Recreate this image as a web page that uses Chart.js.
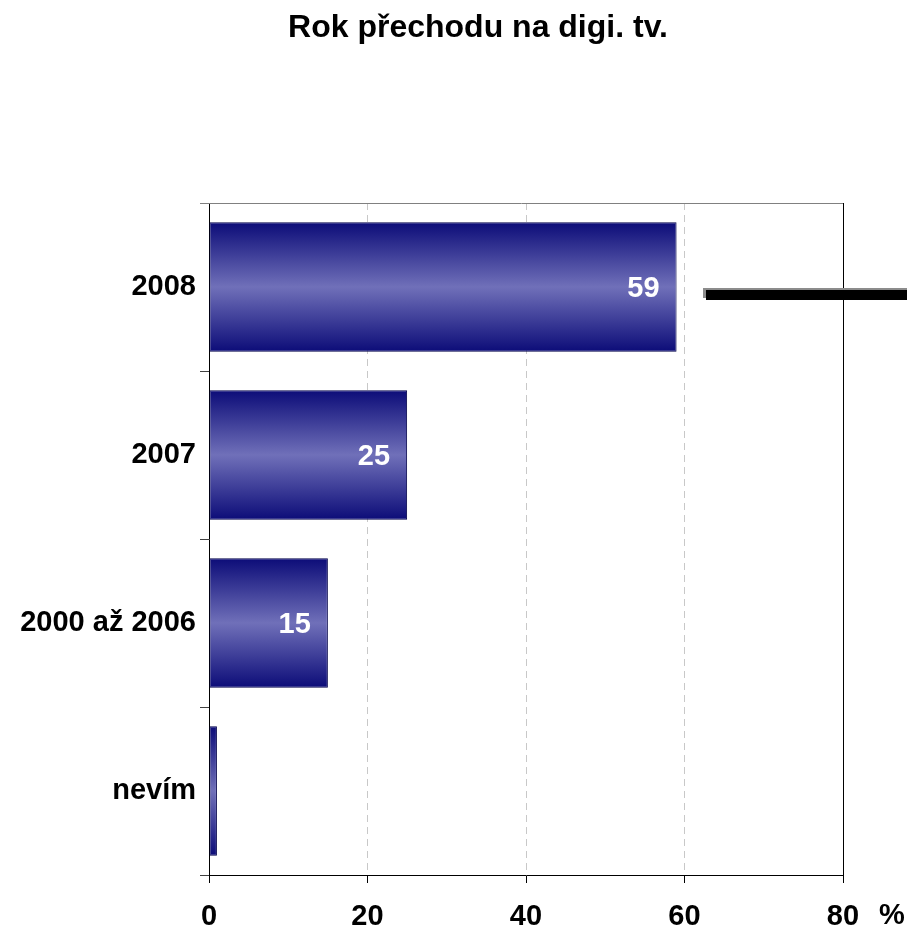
<!DOCTYPE html>
<html>
<head>
<meta charset="utf-8">
<script src="https://cdn.jsdelivr.net/npm/chart.js@4.4.0/dist/chart.umd.min.js"></script>
<style>
  html, body { margin: 0; padding: 0; background: #ffffff; }
  #wrap { width: 907px; height: 932px; }
</style>
</head>
<body>
<div id="wrap"><canvas id="chart" width="907" height="932"></canvas></div>
<script>
// data
const chartTitle = "Rok přechodu na digi. tv.";
const categories = ["2008", "2007", "2000 až 2006", "nevím"];
const shares = [59, 25, 15, 1];
const xTicks = [0, 20, 40, 60, 80];

const darkBlue = "#0c0c78";
const lightBlue = "#7070b9";
const barPct = 0.77;
const font = "'Liberation Sans', Arial, sans-serif";

// vertical gradient for every bar, dark at the edges, light in the middle
function barGradient(ctx) {
	const chart = ctx.chart;
	const area = chart.chartArea;
	if (!area) return darkBlue;
	const center = chart.scales.y.getPixelForValue(ctx.dataIndex);
	const h = (area.bottom - area.top) / categories.length * barPct;
	const g = chart.ctx.createLinearGradient(0, center - h / 2, 0, center + h / 2);
	g.addColorStop(0, darkBlue);
	g.addColorStop(0.5, lightBlue);
	g.addColorStop(1, darkBlue);
	return g;
}

// title, white values inside the bar ends, frame, "%" and the odd black stroke
const extras = {
	id: 'extras',
	afterDatasetsDraw(chart) {
		const c = chart.ctx;
		const meta = chart.getDatasetMeta(0);
		c.save();
		c.font = "bold 29px " + font;
		c.fillStyle = "#ffffff";
		c.textAlign = "right";
		c.textBaseline = "middle";
		meta.data.forEach((bar, i) => {
			if (shares[i] < 5) return;
			c.fillText(shares[i], bar.x - 17, bar.y + 2);
		});
		c.restore();
	},
	afterDraw(chart) {
		const c = chart.ctx;
		const a = chart.chartArea;
		c.save();
		// title, a bit right of the canvas centre
		c.font = "bold 32px " + font;
		c.fillStyle = "#000000";
		c.textAlign = "center";
		c.textBaseline = "alphabetic";
		c.fillText(chartTitle, (a.left + a.right) / 2 - 48, 37);
		// top line and right border
		c.strokeStyle = "#808080";
		c.lineWidth = 1;
		c.beginPath();
		c.moveTo(a.left - 9, a.top + 0.5);
		c.lineTo(a.right, a.top + 0.5);
		c.stroke();
		c.strokeStyle = "#000000";
		c.beginPath();
		c.moveTo(a.right + 0.5, a.top);
		c.lineTo(a.right + 0.5, a.bottom);
		c.stroke();
		// unit
		c.font = "bold 29px " + font;
		c.textAlign = "left";
		c.textBaseline = "middle";
		c.fillText("%", a.right + 36, a.bottom + 41);
		// stray legend stroke
		const y0 = chart.scales.y.getPixelForValue(0);
		c.fillStyle = "#8c8c8c";
		c.fillRect(a.right - 140, y0 + 1, chart.width, 10);
		c.fillStyle = "#000000";
		c.fillRect(a.right - 137, y0 + 3, chart.width, 10);
		c.restore();
	}
};

new Chart(document.getElementById("chart"), {
	type: "bar",
	data: {
		labels: categories,
		datasets: [{
			data: shares,
			backgroundColor: barGradient,
			borderColor: "#00004a",
			borderWidth: 1,
			borderSkipped: false,
			barPercentage: barPct,
			categoryPercentage: 1
		}]
	},
	options: {
		indexAxis: 'y',
		responsive: false,
		animation: false,
		layout: { padding: { left: 0, right: 64, top: 203, bottom: 0 } },
		plugins: {
			legend: { display: false },
			tooltip: { enabled: false },
			title: { display: false }
		},
		scales: {
			x: {
				min: 0,
				max: 80,
				afterBuildTicks: s => { s.ticks = xTicks.map(v => ({ value: v })); },
				afterFit: s => { s.height = 57; },
				ticks: {
					color: "#000000",
					padding: 17,
					font: { family: font, size: 29, weight: "bold" }
				},
				grid: {
					color: ctx => (ctx.tick && ctx.tick.value > 0 && ctx.tick.value < 80) ? "#c8c8c8" : "rgba(0,0,0,0)",
					tickColor: "#000000",
					tickLength: 8,
					tickBorderDash: []
				},
				border: { color: "#000000", width: 1, dash: [7, 5] }
			},
			y: {
				offset: true,
				afterFit: s => { s.width = 209; },
				ticks: {
					color: "#000000",
					padding: 4,
					font: { family: font, size: 29, weight: "bold" }
				},
				grid: {
					offset: true,
					drawOnChartArea: false,
					tickColor: "#404040",
					tickLength: 9
				},
				border: { color: "#000000", width: 1 }
			}
		}
	},
	plugins: [extras]
});
</script>
</body>
</html>
